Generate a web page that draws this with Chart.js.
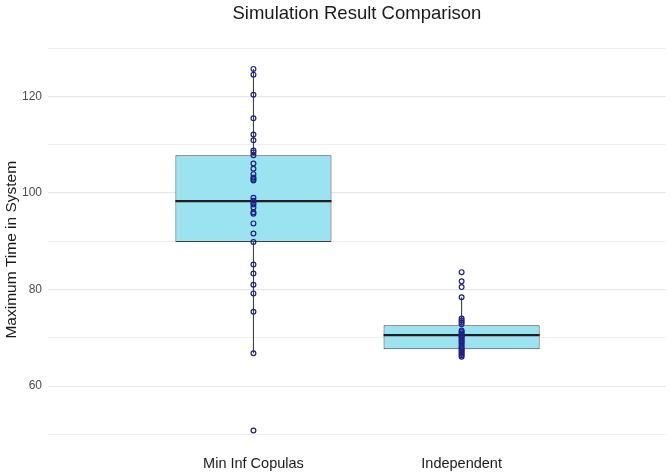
<!DOCTYPE html>
<html>
<head>
<meta charset="utf-8">
<script src="https://cdn.jsdelivr.net/npm/chart.js@4/dist/chart.umd.min.js"></script>
<style>
  html, body { margin: 0; padding: 0; background: #ffffff; }
  #wrap { width: 671px; height: 475px; }
</style>
</head>
<body>
<div id="wrap"><canvas id="c" width="671" height="475"></canvas></div>
<script>
// ---- data ----
const categories = ['Min Inf Copulas', 'Independent'];
const positions = [1, 2];

const whiskerLow  = [66.8, 66.0];
const q1          = [89.85, 67.65];
const median      = [98.3, 70.55];
const q3          = [107.8, 72.6];
const whiskerHigh = [125.7, 78.4];

const minInfValues = [125.7, 124.5, 120.35, 115.45, 112.1, 110.9, 108.8, 108.4, 107.8,
  106.1, 105.0, 103.9, 103.2, 102.9, 102.6, 99.0, 98.4, 98.0, 97.6, 97.0, 96.0, 95.7,
  93.7, 91.6, 89.85, 85.2, 83.3, 81.0, 79.2, 75.4, 66.8, 50.8];
const independentValues = [83.6, 81.7, 80.5, 78.4, 74.0, 73.6, 73.2, 72.8,
  71.5, 71.2, 70.9, 70.6, 70.4, 70.2, 69.9, 69.6, 69.3, 69.0,
  68.6, 68.2, 67.9, 67.6, 67.3, 67.0, 66.7, 66.4, 66.1];

const yTickLabels = [60, 80, 100, 120];

// ---- build library structures ----
const BOX_WIDTH = 0.75;
const groupValues = [minInfValues, independentValues];

const boxData = positions.map((p, i) => ({ x: p, y: [q1[i], q3[i]] }));

const medianData = [];
positions.forEach((p, i) => {
  medianData.push({ x: p - BOX_WIDTH / 2, y: median[i] });
  medianData.push({ x: p + BOX_WIDTH / 2, y: median[i] });
  medianData.push({ x: p + 0.5, y: null });
});

const whiskerData = [];
positions.forEach((p, i) => {
  whiskerData.push({ x: p, y: whiskerLow[i] });
  whiskerData.push({ x: p, y: q1[i] });
  whiskerData.push({ x: p, y: null });
  whiskerData.push({ x: p, y: q3[i] });
  whiskerData.push({ x: p, y: whiskerHigh[i] });
  whiskerData.push({ x: p, y: null });
});

const pointData = [];
positions.forEach((p, i) => {
  groupValues[i].forEach(v => pointData.push({ x: p, y: v }));
});

const FONT = "'Liberation Sans', Arial, sans-serif";

new Chart(document.getElementById('c'), {
  type: 'bar',
  data: {
    datasets: [
      {
        type: 'scatter',
        label: 'points',
        data: pointData,
        pointStyle: 'circle',
        pointRadius: 2.4,
        pointBorderWidth: 1.2,
        pointBorderColor: '#1f1f86',
        pointBackgroundColor: 'rgba(255,255,255,0)',
        order: 0
      },
      {
        type: 'line',
        label: 'median',
        data: medianData,
        borderColor: '#1f1f1f',
        borderWidth: 2.2,
        pointRadius: 0,
        spanGaps: false,
        order: 1
      },
      {
        type: 'bar',
        label: 'box',
        data: boxData,
        backgroundColor: '#9be3f0',
        borderColor: '#404040',
        borderWidth: 1,
        borderSkipped: false,
        barPercentage: BOX_WIDTH,
        categoryPercentage: 1,
        order: 2
      },
      {
        type: 'line',
        label: 'whisker',
        data: whiskerData,
        borderColor: '#333333',
        borderWidth: 1,
        pointRadius: 0,
        spanGaps: false,
        order: 3
      }
    ]
  },
  options: {
    responsive: false,
    animation: false,
    devicePixelRatio: 1,
    layout: { padding: { left: 0, right: 5, top: 0, bottom: 0 } },
    plugins: {
      legend: { display: false },
      tooltip: { enabled: false },
      title: {
        display: true,
        text: 'Simulation Result Comparison',
        fullSize: false,
        color: '#1a1a1a',
        font: { family: FONT, size: 18.5, weight: 'normal', lineHeight: 1.2 },
        padding: { top: 3, bottom: 20.5 }
      }
    },
    scales: {
      x: {
        type: 'linear',
        min: 0.013,
        max: 2.981,
        offset: false,
        grid: { display: false, drawTicks: false },
        border: { display: false },
        afterBuildTicks: (scale) => { scale.ticks = positions.map(v => ({ value: v })); },
        afterFit: (scale) => { scale.height = 21.3; },
        ticks: {
          padding: 2,
          color: '#1a1a1a',
          font: { family: FONT, size: 14.5 },
          callback: (v) => {
            const idx = positions.indexOf(v);
            return idx >= 0 ? categories[idx] : '';
          }
        }
      },
      y: {
        type: 'linear',
        min: 46,
        max: 130.5,
        afterFit: (scale) => { scale.width = 48; },
        border: { display: false },
        grid: {
          drawTicks: false,
          color: (ctx) => yTickLabels.includes(ctx.tick && ctx.tick.value) ? '#e8e8e8' : '#efefef',
          lineWidth: (ctx) => yTickLabels.includes(ctx.tick && ctx.tick.value) ? 1.2 : 1
        },
        ticks: {
          stepSize: 10,
          includeBounds: false,
          padding: 6,
          color: '#4d4d4d',
          font: { family: FONT, size: 12 },
          callback: (v) => yTickLabels.includes(v) ? String(v) : ''
        },
        title: {
          display: true,
          text: 'Maximum Time in System',
          color: '#1a1a1a',
          font: { family: FONT, size: 15.5 },
          padding: { top: 2, bottom: 0 }
        }
      }
    }
  }
});
</script>
</body>
</html>
